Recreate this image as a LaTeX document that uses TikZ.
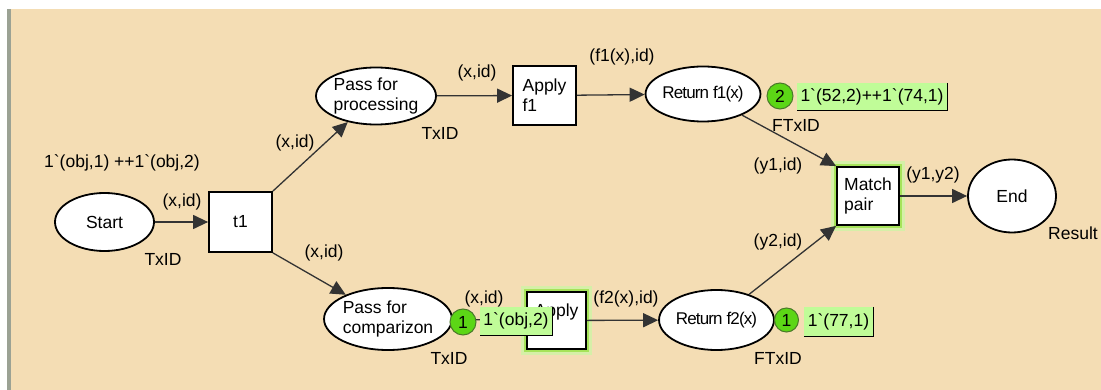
\documentclass[tikz,border=0pt]{standalone}
\usepackage{fontspec}
\setmainfont{Liberation Sans}
\usetikzlibrary{shapes.geometric,arrows.meta}
\definecolor{bg}{HTML}{F4DDB4}
\definecolor{barcol}{HTML}{9BA294}
\definecolor{tokfill}{HTML}{5CD616}
\definecolor{tokline}{HTML}{4A7A2A}
\definecolor{lblfill}{HTML}{C0FC98}
\definecolor{glowA}{HTML}{D6EFA8}
\definecolor{glowB}{HTML}{A6E35A}
\definecolor{arccol}{HTML}{333333}
\begin{document}
\begin{tikzpicture}[x=1pt,y=-1pt,font=\fontsize{17.5}{20}\selectfont,
  place/.style={ellipse,draw=black,line width=1.8pt,fill=white,inner sep=0pt},
  trans/.style={rectangle,draw=black,line width=1.8pt,fill=white,inner sep=0pt,align=left},
  glow/.style={preaction={draw=glowA,line width=12pt},preaction={draw=glowB,line width=6pt}},
  arc/.style={draw=arccol,line width=1.3pt,-{Triangle[length=15pt,width=14pt]}},
  lab/.style={inner sep=0pt,anchor=center},
  tight/.style={font=\fontsize{17}{20}\selectfont\addfontfeature{LetterSpace=-5}},
  token/.style={circle,fill=tokfill,draw=tokline,line width=1pt,minimum size=26pt,inner sep=0pt},
  markbox/.style={fill=lblfill,inner sep=0pt,minimum height=27pt,anchor=center}]
% background
\fill[white] (0,0) rectangle (1101,390);
\fill[bg] (11,9) rectangle (1101,390);
\fill[barcol] (7,9) rectangle (11,390);
\useasboundingbox (0,0) rectangle (1101,390);

% places
\node[place,minimum width=99pt,minimum height=58pt] (start) at (104.5,222) {Start};
\node[place,minimum width=120pt,minimum height=57pt,align=left] (pp) at (376,96) {Pass for\\processing};
\node[place,minimum width=110pt,minimum height=62pt,align=left] (pc) at (388,319) {Pass for\\comparizon};
\node[place,tight,minimum width=112pt,minimum height=55pt] (rf1) at (703,94) {Return f1(x)};
\node[place,tight,minimum width=101pt,minimum height=60pt] (rf2) at (716.5,320) {Return f2(x)};
\node[place,minimum width=88pt,minimum height=73pt] (end) at (1012,196) {End};

% transitions
\node[trans,minimum width=63pt,minimum height=60pt] (t1) at (240.5,222) {t1};
\node[trans,minimum width=63pt,minimum height=59pt] (af1) at (544.5,95.5) {Apply\\f1};
\node[trans,glow,minimum width=59pt,minimum height=57pt] (af2) at (556.5,320.5) {Apply\\\mbox{}};
\node[trans,glow,minimum width=62pt,minimum height=58pt] (mp) at (868,196) {Match\\pair};

% arcs
\draw[arc] (start) -- (t1);
\draw[arc] (t1.north east) -- (pp);
\draw[arc] (t1.south east) -- (pc);
\draw[arc] (pp) -- (af1);
\draw[arc] (af1) -- (rf1);
\draw[arc] (pc) -- (af2);
\draw[arc] (af2) -- (rf2);
\draw[arc] (rf1) -- (mp.north west);
\draw[arc] (rf2) -- (mp.south west);
\draw[arc] (mp) -- (end);

% inscriptions
\node[lab] (init) at (122,163) {1\textasciigrave(obj,1) ++1\textasciigrave(obj,2)};
\node[lab] (a1) at (182,202) {(x,id)};
\node[lab] (ty1) at (163,259) {TxID};
\node[lab] (a2) at (295,143) {(x,id)};
\node[lab] (a3) at (324,253) {(x,id)};
\node[lab] (ty2) at (440,133) {TxID};
\node[lab] (a4) at (477,73) {(x,id)};
\node[lab] (a5) at (622,57) {(f1(x),id)};
\node[lab] (ty3) at (796,125) {FTxID};
\node[lab] (a6) at (778,166) {(y1,id)};
\node[lab] (a7) at (778,242) {(y2,id)};
\node[lab] (a8) at (933,175) {(y1,y2)};
\node[lab] (ty4) at (1073,233) {Result};
\node[lab] (a9) at (484,299) {(x,id)};
\node[lab] (a10) at (626,299) {(f2(x),id)};
\node[lab] (ty5) at (449,358) {TxID};
\node[lab] (ty6) at (778,358) {FTxID};

% tokens and markings
\node[token] (k1) at (780,96) {2};
\node[markbox,minimum width=150pt] (m1) at (872,96.5) {1\textasciigrave(52,2)++1\textasciigrave(74,1)};
\draw[black,line width=1pt] (m1.north east) |- (m1.south west);
\node[token] (k2) at (463,322) {1};
\node[markbox,minimum width=72pt,minimum height=28pt] (m2) at (516,321) {1\textasciigrave(obj,2)};
\draw[black,line width=1pt] (m2.north east) |- (m2.south west);
\node[token,minimum size=24pt] (k3) at (786.5,320) {1};
\node[markbox,minimum width=69pt,minimum height=29pt] (m3) at (838.5,321.5) {1\textasciigrave(77,1)};
\draw[black,line width=1pt] (m3.north east) |- (m3.south west);
\end{tikzpicture}
\end{document}
